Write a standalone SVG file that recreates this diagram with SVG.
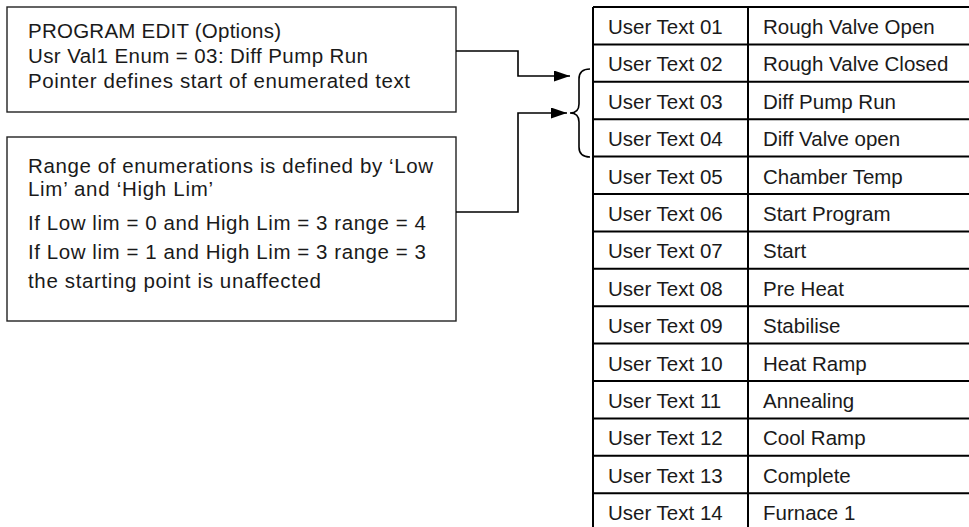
<svg xmlns="http://www.w3.org/2000/svg" width="969" height="527" viewBox="0 0 969 527">
<style>
.t{font-family:"Liberation Sans",Arial,sans-serif;font-size:20.5px;fill:#1a1a1a}
.box{fill:#fff;stroke:#222;stroke-width:1.4}
.grid{stroke:#000;stroke-width:2;fill:none}
.conn{stroke:#000;stroke-width:1.6;fill:none}
</style>
<defs>
<marker id="arr" markerUnits="userSpaceOnUse" markerWidth="17" markerHeight="12" refX="16" refY="5.5" orient="auto">
<path d="M0,0 L16,5.5 L0,11 Z" fill="#000"/>
</marker>
</defs>
<rect width="969" height="527" fill="#fff"/>

<g id="box-program-edit">
<rect class="box" x="7" y="7" width="449" height="105"/>
<text class="t" x="28" y="38" textLength="253">PROGRAM EDIT (Options)</text>
<text class="t" x="28" y="63" textLength="340">Usr Val1 Enum = 03: Diff Pump Run</text>
<text class="t" x="28" y="88" textLength="382">Pointer defines start of enumerated text</text>
</g>

<g id="box-range">
<rect class="box" x="7" y="137" width="449" height="184"/>
<text class="t" x="28" y="173" textLength="405">Range of enumerations is defined by ‘Low</text>
<text class="t" x="28" y="196" textLength="185">Lim’ and ‘High Lim’</text>
<text class="t" x="28" y="230" textLength="398">If Low lim = 0 and High Lim = 3 range = 4</text>
<text class="t" x="28" y="259" textLength="398">If Low lim = 1 and High Lim = 3 range = 3</text>
<text class="t" x="28" y="288" textLength="293">the starting point is unaffected</text>
</g>

<g id="connectors">
<path class="conn" d="M456,51 H518 V76 H570" marker-end="url(#arr)"/>
<path class="conn" d="M456,212 H518 V113 H567" marker-end="url(#arr)"/>
<path class="conn" d="M590,69 Q579,69 579,79 V104 Q579,113 570,113 Q579,113 579,122 V147 Q579,157 590,157"/>
</g>

<g id="table">
<g class="grid">
<path d="M593,7 V531 M748,7 V531"/>
<path d="M593,7 H975 M593,44.4 H975 M593,81.8 H975 M593,119.2 H975 M593,156.6 H975 M593,194 H975 M593,231.4 H975 M593,268.8 H975 M593,306.2 H975 M593,343.6 H975 M593,381 H975 M593,418.4 H975 M593,455.8 H975 M593,493.2 H975 M593,530.6 H975"/>
</g>
<g id="row01"><text class="t" x="608" y="34">User Text 01</text><text class="t" x="763" y="34">Rough Valve Open</text></g>
<g id="row02"><text class="t" x="608" y="71.4">User Text 02</text><text class="t" x="763" y="71.4">Rough Valve Closed</text></g>
<g id="row03"><text class="t" x="608" y="108.8">User Text 03</text><text class="t" x="763" y="108.8">Diff Pump Run</text></g>
<g id="row04"><text class="t" x="608" y="146.2">User Text 04</text><text class="t" x="763" y="146.2">Diff Valve open</text></g>
<g id="row05"><text class="t" x="608" y="183.6">User Text 05</text><text class="t" x="763" y="183.6">Chamber Temp</text></g>
<g id="row06"><text class="t" x="608" y="221">User Text 06</text><text class="t" x="763" y="221">Start Program</text></g>
<g id="row07"><text class="t" x="608" y="258.4">User Text 07</text><text class="t" x="763" y="258.4">Start</text></g>
<g id="row08"><text class="t" x="608" y="295.8">User Text 08</text><text class="t" x="763" y="295.8">Pre Heat</text></g>
<g id="row09"><text class="t" x="608" y="333.2">User Text 09</text><text class="t" x="763" y="333.2">Stabilise</text></g>
<g id="row10"><text class="t" x="608" y="370.6">User Text 10</text><text class="t" x="763" y="370.6">Heat Ramp</text></g>
<g id="row11"><text class="t" x="608" y="408">User Text 11</text><text class="t" x="763" y="408">Annealing</text></g>
<g id="row12"><text class="t" x="608" y="445.4">User Text 12</text><text class="t" x="763" y="445.4">Cool Ramp</text></g>
<g id="row13"><text class="t" x="608" y="482.8">User Text 13</text><text class="t" x="763" y="482.8">Complete</text></g>
<g id="row14"><text class="t" x="608" y="520.2">User Text 14</text><text class="t" x="763" y="520.2">Furnace 1</text></g>
</g>
</svg>
